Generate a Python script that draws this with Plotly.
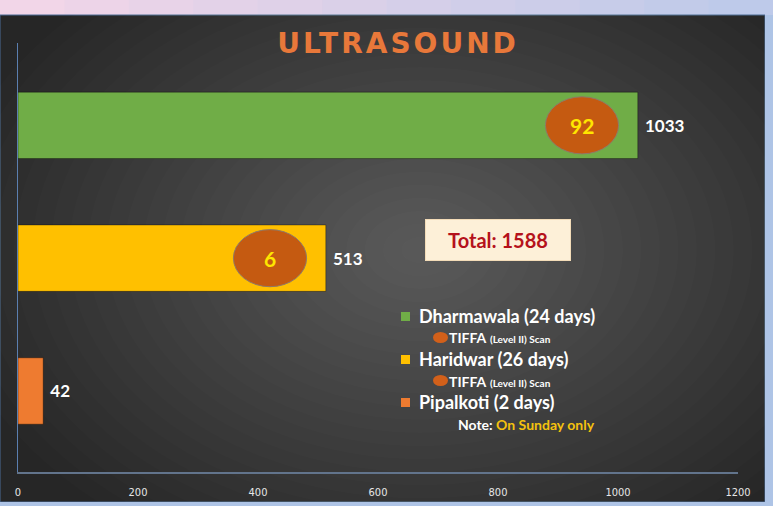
import plotly.graph_objects as go

# ---- data ----
categories = ["Pipalkoti", "Haridwar", "Dharmawala"]
counts = [42, 513, 1033]
tiffa_counts = [None, 6, 92]
days = [2, 26, 24]
bar_colors = ["#ee7b30", "#ffc000", "#70ad47"]
x_ticks = [0, 200, 400, 600, 800, 1000, 1200]
title_text = "ULTRASOUND"
note_text = "On Sunday only"
total = sum(counts)

W, H = 773, 506
L, R, T, B = 18, 35, 43, 34
PW, PH = W - L - R, H - T - B

def px(x):
    return (x - L) / PW

def py(y):
    return (H - B - y) / PH

fig = go.Figure()
fig.add_trace(go.Bar(
    y=categories, x=counts, orientation="h", width=0.5,
    marker=dict(color=bar_colors, line=dict(color="rgba(0,0,0,0.35)", width=1)),
    text=[f"<b> {v}</b>" for v in counts], textposition="outside",
    textfont=dict(family="Lato", size=17, color="#ffffff"),
    cliponaxis=False, hoverinfo="skip",
))

shapes = []
# outer background frame
nseg = 12
for i in range(nseg):
    t = i / (nseg - 1)
    c1, c2 = (242, 214, 232), (190, 202, 234)
    col = "rgb(%d,%d,%d)" % tuple(int(a + (b - a) * t) for a, b in zip(c1, c2))
    shapes.append(dict(type="rect", xref="paper", yref="paper", layer="below",
                       x0=px(i * W / nseg), x1=px((i + 1) * W / nseg + 1), y0=py(15), y1=py(0),
                       fillcolor=col, line=dict(width=0)))
# dark panel
shapes.append(dict(type="rect", xref="paper", yref="paper", layer="below",
                   x0=px(0), x1=px(765), y0=py(502), y1=py(15),
                   fillcolor="#262626", line=dict(color="#4a6a94", width=1)))
# radial glow (soft)
nr = 26
for k in range(nr):
    f = 1 - k / nr
    rx = 480 * f
    ry = 340 * f
    shapes.append(dict(type="circle", xref="paper", yref="paper", layer="below",
                       x0=px(420 - rx), x1=px(420 + rx), y0=py(250 + ry), y1=py(250 - ry),
                       fillcolor="rgba(255,255,255,0.0115)", line=dict(width=0)))
# cover glow overflow outside panel
shapes.append(dict(type="rect", xref="paper", yref="paper", layer="below",
                   x0=px(765), x1=px(800), y0=py(540), y1=py(15),
                   fillcolor="#aec4e6", line=dict(width=0)))
shapes.append(dict(type="rect", xref="paper", yref="paper", layer="below",
                   x0=px(-20), x1=px(800), y0=py(540), y1=py(502),
                   fillcolor="#aec4e6", line=dict(width=0)))
shapes.append(dict(type="rect", xref="paper", yref="paper", layer="below",
                   x0=px(-20), x1=px(0), y0=py(540), y1=py(0),
                   fillcolor="#2a2f3a", line=dict(width=0)))

annotations = []
# TIFFA ellipses on bars
for i, (v, tc) in enumerate(zip(counts, tiffa_counts)):
    if tc is None:
        continue
    cx = v - 93
    shapes.append(dict(type="circle", xref="x", yref="y", layer="above",
                       x0=cx - 61, x1=cx + 61, y0=i - 0.215, y1=i + 0.215,
                       fillcolor="#c55a11", line=dict(color="#8f7a68", width=1)))
    annotations.append(dict(x=cx, y=i, xref="x", yref="y", showarrow=False,
                            text=f"<b>{tc}</b>",
                            font=dict(family="Lato", size=21, color="#ffe600")))

# Total box
annotations.append(dict(x=px(498), y=py(240), xref="paper", yref="paper", showarrow=False,
                        text=f"<b>Total: {total}</b>", width=140, height=36,
                        bgcolor="#fdf0d8", bordercolor="#f3dcb8", borderwidth=1, borderpad=2,
                        font=dict(family="Lato", size=20, color="#b5121b")))

# custom legend
leg_rows = [(316, 338), (359, 381), (402, None)]
for (cat, d, col, (ry, dy)) in zip(categories[::-1], days[::-1], bar_colors[::-1], leg_rows):
    shapes.append(dict(type="rect", xref="paper", yref="paper",
                       x0=px(401), x1=px(410), y0=py(ry + 5), y1=py(ry - 4),
                       fillcolor=col, line=dict(width=0)))
    annotations.append(dict(x=px(417), y=py(ry), xref="paper", yref="paper", showarrow=False,
                            xanchor="left", yanchor="middle",
                            text=f"<b>{cat} ({d} days)</b>",
                            font=dict(family="Lato", size=18, color="#ffffff")))
    if dy is not None:
        shapes.append(dict(type="circle", xref="paper", yref="paper",
                           x0=px(433), x1=px(448), y0=py(dy + 5), y1=py(dy - 6),
                           fillcolor="#d2601a", line=dict(width=0)))
        annotations.append(dict(x=px(447), y=py(dy), xref="paper", yref="paper", showarrow=False,
                                xanchor="left", yanchor="middle",
                                text="<b>TIFFA</b> <span style='font-size:10px'><b>(Level II) Scan</b></span>",
                                font=dict(family="Lato", size=14, color="#ffffff")))
annotations.append(dict(x=px(456), y=py(424), xref="paper", yref="paper", showarrow=False,
                        xanchor="left", yanchor="middle",
                        text=f"<b>Note: <span style='color:#f5c20e'>{note_text}</span></b>",
                        font=dict(family="Lato", size=14, color="#ffffff")))

fig.update_layout(
    width=W, height=H,
    margin=dict(l=L, r=R, t=T, b=B, pad=0, autoexpand=False),
    paper_bgcolor="#aec4e6", plot_bgcolor="rgba(0,0,0,0)",
    showlegend=False,
    title=dict(text=f"<span style='letter-spacing:3px'><b>{title_text}</b></span>",
               x=398 / W, xanchor="center",
               y=1 - 43 / H, yanchor="middle", yref="container", automargin=False,
               font=dict(family="DejaVu Sans", size=28, color="#e8783a")),
    xaxis=dict(range=[0, 1200], tickvals=x_ticks, showgrid=False, zeroline=False,
               showline=True, linecolor="#62748c", linewidth=2, ticks="",
               ticklabelstandoff=9, automargin=False,
               tickfont=dict(family="DejaVu Sans Condensed", size=11, color="#e6e6e6")),
    yaxis=dict(range=[-0.61, 2.62], showticklabels=False, showgrid=False, zeroline=False,
               showline=True, linecolor="#5b7fb0", linewidth=1, ticks="", automargin=False),
    shapes=shapes, annotations=annotations,
)
fig.write_html("out.html", config={"displayModeBar": False},
               post_script="document.body.style.margin='0';document.body.style.overflow='hidden';")
